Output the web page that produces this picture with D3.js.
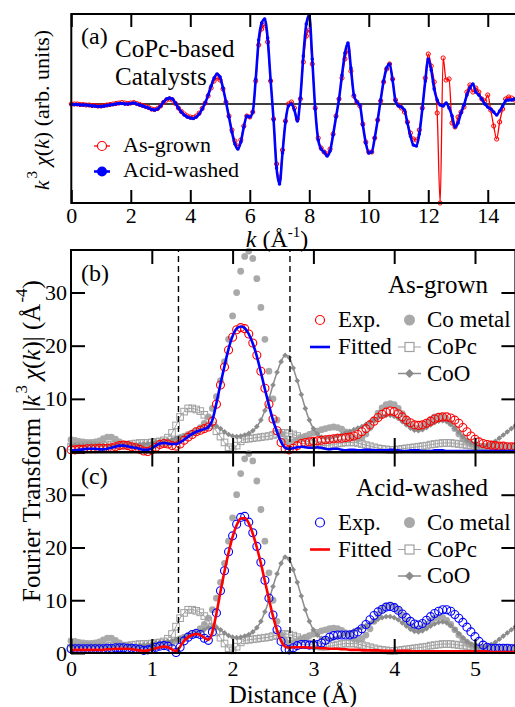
<!DOCTYPE html>
<html>
<head>
<meta charset="utf-8">
<script src="https://cdnjs.cloudflare.com/ajax/libs/d3/7.8.5/d3.min.js"></script>
<style>
  body { margin: 0; background: #fff; }
  svg { display: block; }
</style>
</head>
<body>
<div id="chart"></div>
<script>
// ---- panel (a): k^3 chi(k), sampled every 0.1 A^-1 from k = 0 ----
const kStep = 0.1;
const asGrownChi = [
  0.0, 0.0, 0.0, -0.05, -0.05, -0.1, -0.1, -0.15, -0.15, -0.2,
  -0.2, -0.15, -0.1, -0.05, 0.0, 0.05, 0.1, 0.15, 0.1, 0.05,
  0.1, 0.15, 0.05, -0.05, -0.15, -0.25, -0.35, -0.5, -0.55, -0.45,
  -0.2, 0.15, 0.4, 0.5, 0.4, 0.05, -0.4, -0.75, -1.0, -1.2,
  -1.3, -1.35, -1.2, -0.9, -0.45, 0.1, 0.8, 1.6, 2.3, 2.6,
  2.4, 1.5, 0.2, -1.2, -2.6, -3.7, -4.2, -3.6, -2.2, -1.2,
  -1.3, -0.8, 2.3, 5.9, 7.5, 7.9, 6.2, 2.3, -1.5, -6.0,
  -7.4, -4.6, -1.7, 0.0, 0.2, -0.4, -1.5, 0.5, 4.2, 6.8,
  7.4, 4.0, -0.4, -3.4, -4.4, -4.8, -5.0, -4.5, -3.0, -1.2,
  0.5, 2.6, 4.5, 5.3, 3.3, 0.8, 0.2, -0.2, -2.0, -3.8,
  -4.8, -4.8, -3.4, -1.6, 0.3, 2.2, 3.5, 4.0, 2.5, 0.4,
  -0.1, -0.4, -0.8, -1.8, -2.9, -3.5, -3.6, -2.6, -0.4, 2.6,
  5.0, 3.8, 2.2, -0.9, -9.9, 4.6, 2.4, 2.5, -1.9, -2.3,
  -1.3, -0.8, -0.3, 1.2, 1.9, 1.2, 1.6, 1.2, 0.5, 0.3,
  0.9, -0.6, -2.2, -3.5, -1.8, -0.5, 0.5, 0.7, 0.6, 0.4,
  0.5
];
const acidWashedChi = [
  -0.05, -0.05, -0.05, -0.1, -0.1, -0.1, -0.15, -0.2, -0.2, -0.25,
  -0.25, -0.2, -0.15, -0.1, -0.05, 0.0, 0.05, 0.05, 0.0, 0.0,
  0.05, 0.1, 0.0, -0.1, -0.2, -0.3, -0.4, -0.55, -0.6, -0.5,
  -0.2, 0.2, 0.5, 0.6, 0.5, 0.1, -0.4, -0.8, -1.1, -1.3,
  -1.4, -1.45, -1.3, -1.0, -0.5, 0.1, 0.9, 1.8, 2.6, 3.0,
  2.7, 1.6, 0.2, -1.3, -2.8, -4.0, -4.5, -3.8, -2.3, -1.2,
  -1.3, -0.8, 2.5, 6.4, 8.1, 8.5, 6.6, 2.4, -1.6, -6.4,
  -8.0, -4.9, -1.8, -0.2, 0.0, -0.6, -1.7, 0.6, 4.8, 8.0,
  8.9, 4.5, -0.5, -3.6, -4.5, -4.8, -5.2, -4.7, -3.1, -1.3,
  0.5, 2.9, 5.1, 6.1, 3.6, 0.9, 0.2, -0.1, -2.1, -3.9,
  -4.9, -4.8, -3.4, -1.6, 0.4, 2.3, 3.6, 4.0, 2.4, 0.3,
  -0.2, -0.3, -0.6, -1.9, -3.2, -4.1, -4.2, -3.0, -0.5, 2.3,
  4.5, 3.4, 1.5, 0.4, -0.1, -0.2, 0.1, -0.4, -1.2, -2.3,
  -1.9, -0.9, -0.1, 0.9, 1.6, 2.0, 1.2, 0.9, 0.5, 0.0,
  -0.3, -0.5, -0.8, -1.1, -0.7, -0.2, 0.3, 0.4, 0.4, 0.5,
  0.5
];
const kTicks = [0, 2, 4, 6, 8, 10, 12, 14];

// ---- panels (b), (c): |FT|, sampled every 0.05 A from R = 0 ----
const rStep = 0.05;
const expAsGrown = [
  0.4, 0.4, 0.5, 0.5, 0.6, 0.6, 0.6, 0.7, 0.7, 0.7,
  0.8, 1.0, 1.2, 1.3, 1.2, 1.0, 0.8, 0.5, 0.2, 0.1,
  0.4, 0.9, 1.4, 1.6, 1.5, 1.2, 1.1, 1.5, 2.2, 2.8,
  3.3, 3.8, 4.1, 4.4, 4.7, 5.8, 9.0, 12.6, 16.0, 19.2,
  21.6, 23.0, 23.4, 23.2, 22.2, 20.5, 18.2, 15.2, 12.0, 9.0,
  6.2, 4.0, 1.8, 0.6, 0.4, 0.7, 1.2, 1.6, 1.8, 1.9,
  2.0, 2.1, 2.2, 2.3, 2.4, 2.5, 2.6, 2.6, 2.7, 2.8,
  3.0, 3.3, 3.8, 4.4, 5.1, 5.8, 6.5, 7.1, 7.5, 7.7,
  7.6, 7.2, 6.6, 6.0, 5.5, 5.1, 5.0, 5.1, 5.4, 5.8,
  6.2, 6.5, 6.6, 6.6, 6.4, 6.0, 5.4, 4.6, 3.8, 3.0,
  2.4, 1.9, 1.6, 1.4, 1.3, 1.2, 1.1, 1.1, 1.0, 1.0,
  1.0
];
const fitAsGrown = [
  0.3, 0.3, 0.4, 0.5, 0.6, 0.6, 0.6, 0.5, 0.5, 0.6,
  0.8, 1.0, 1.2, 1.2, 1.1, 0.9, 0.8, 0.6, 0.4, 0.4,
  0.7, 1.2, 1.6, 1.7, 1.6, 1.5, 1.5, 1.8, 2.3, 2.9,
  3.4, 3.8, 4.1, 4.3, 4.7, 6.0, 9.2, 12.8, 16.2, 19.4,
  21.8, 23.2, 23.6, 23.3, 22.2, 20.4, 18.0, 15.0, 11.8, 8.8,
  6.0, 3.8, 1.9, 0.8, 0.6, 0.7, 0.9, 1.0, 0.9, 0.8,
  0.8, 0.9, 0.8, 0.6, 0.5, 0.6, 0.6, 0.4, 0.3, 0.4,
  0.4, 0.3, 0.3, 0.4, 0.4, 0.3, 0.3, 0.3, 0.3, 0.4,
  0.4, 0.3, 0.2, 0.2, 0.3, 0.3, 0.3, 0.2, 0.2, 0.2,
  0.3, 0.3, 0.3, 0.2, 0.2, 0.2, 0.2, 0.2, 0.2, 0.2,
  0.2, 0.2, 0.2, 0.2, 0.2, 0.2, 0.2, 0.2, 0.2, 0.2,
  0.2
];
const expAcidWashed = [
  0.8, 0.8, 0.8, 0.8, 0.8, 0.8, 0.8, 0.8, 0.8, 0.9,
  0.9, 1.0, 1.0, 1.0, 0.9, 0.9, 0.8, 0.7, 0.5, 0.6,
  0.8, 1.1, 1.3, 1.4, 1.3, 0.8, 0.1, 1.1, 2.3, 3.0,
  3.5, 3.7, 3.5, 2.8, 2.4, 4.0, 7.6, 11.8, 15.6, 19.2,
  22.2, 24.4, 25.7, 25.9, 24.8, 22.8, 20.2, 17.2, 13.8, 10.4,
  7.2, 4.4, 2.2, 0.8, 0.6, 1.0, 1.4, 1.6, 1.6, 1.5,
  1.5, 1.6, 1.9, 2.4, 3.0, 3.3, 3.4, 3.4, 3.4, 3.4,
  3.6, 4.0, 4.6, 5.4, 6.3, 7.1, 7.8, 8.3, 8.7, 8.8,
  8.6, 8.1, 7.4, 6.7, 6.0, 5.5, 5.3, 5.6, 6.2, 6.9,
  7.5, 7.9, 8.2, 8.2, 7.9, 7.3, 6.6, 5.8, 4.9, 4.0,
  3.1, 2.2, 1.5, 1.1, 0.9, 0.9, 0.9, 0.9, 0.9, 0.8,
  0.8
];
const fitAcidWashed = [
  0.6, 0.6, 0.6, 0.6, 0.6, 0.6, 0.6, 0.6, 0.6, 0.7,
  0.7, 0.8, 0.8, 0.8, 0.8, 0.7, 0.6, 0.5, 0.4, 0.5,
  0.7, 0.9, 1.1, 1.2, 1.1, 0.7, 0.3, 1.2, 2.3, 3.0,
  3.4, 3.6, 3.4, 2.9, 2.5, 4.0, 7.5, 11.6, 15.5, 19.0,
  22.0, 24.2, 25.5, 25.6, 24.6, 22.6, 20.0, 17.0, 13.6, 10.2,
  7.0, 4.3, 2.3, 1.2, 1.0, 1.1, 1.1, 1.1, 1.1, 1.0,
  1.0, 1.0, 0.9, 0.9, 0.8, 0.8, 0.8, 0.7, 0.7, 0.6,
  0.6, 0.6, 0.5, 0.5, 0.5, 0.5, 0.5, 0.4, 0.4, 0.4,
  0.4, 0.4, 0.4, 0.4, 0.4, 0.3, 0.3, 0.3, 0.3, 0.3,
  0.3, 0.3, 0.3, 0.3, 0.3, 0.3, 0.3, 0.3, 0.3, 0.3,
  0.3, 0.3, 0.3, 0.3, 0.2, 0.2, 0.2, 0.2, 0.2, 0.2,
  0.2
];
const coMetal = [
  2.3, 2.2, 2.0, 1.9, 1.8, 1.8, 1.9, 2.1, 2.5, 2.8,
  2.8, 2.4, 1.9, 1.5, 1.3, 1.2, 1.1, 1.0, 1.0, 1.1,
  1.2, 1.3, 1.5, 1.6, 1.7, 1.9, 2.3, 2.7, 3.0, 3.3,
  3.6, 4.0, 4.6, 5.4, 6.6, 8.2, 10.4, 13.4, 17.0, 21.2,
  25.6, 30.0, 34.0, 36.8, 37.8, 36.4, 32.6, 27.2, 21.2, 15.2,
  10.0, 6.0, 3.4, 2.2, 1.8, 1.9, 2.2, 2.6, 3.0, 3.3,
  3.6, 3.9, 4.2, 4.4, 4.6, 4.7, 4.6, 4.3, 3.8, 3.2,
  2.7, 2.5, 2.7, 3.4, 4.6, 6.0, 7.3, 8.3, 8.9, 9.1,
  8.9, 8.2, 7.2, 6.1, 5.2, 4.6, 4.5, 4.8, 5.4, 6.1,
  6.6, 6.8, 6.7, 6.2, 5.4, 4.4, 3.4, 2.6, 2.0, 1.5,
  1.2, 1.0, 0.9, 0.9, 1.0, 1.1, 1.1, 1.0, 0.9, 0.9,
  0.9
];
const coPc = [
  1.0, 1.1, 1.2, 1.3, 1.3, 1.2, 1.1, 1.1, 1.2, 1.3,
  1.4, 1.4, 1.3, 1.3, 1.4, 1.5, 1.6, 1.7, 1.7, 1.7,
  1.8, 1.9, 2.0, 2.2, 2.7, 3.6, 5.0, 6.6, 7.6, 8.2,
  8.2, 8.0, 7.7, 7.0, 6.1, 5.0, 3.9, 2.9, 1.8, 0.9,
  0.5, 1.2, 2.0, 2.4, 2.5, 2.6, 2.7, 2.8, 2.9, 3.0,
  3.2, 3.4, 3.6, 3.6, 3.5, 3.3, 3.0, 2.6, 2.2, 1.8,
  1.5, 1.3, 1.2, 1.2, 1.3, 1.4, 1.6, 1.7, 1.8, 1.8,
  1.8, 1.7, 1.5, 1.3, 1.1, 0.9, 0.7, 0.6, 0.5, 0.4,
  0.4, 0.5, 0.6, 0.7, 0.8, 0.9, 1.0, 1.1, 1.2, 1.4,
  1.5, 1.6, 1.7, 1.7, 1.7, 1.6, 1.5, 1.4, 1.3, 1.2,
  1.1, 1.0, 0.9, 0.9, 0.9, 1.0, 1.0, 1.0, 1.0, 1.0,
  1.0
];
const coO = [
  1.3, 1.3, 1.2, 1.2, 1.2, 1.3, 1.3, 1.3, 1.2, 1.2,
  1.2, 1.3, 1.4, 1.4, 1.4, 1.3, 1.3, 1.4, 1.5, 1.6,
  1.7, 1.9, 2.0, 2.1, 2.2, 2.3, 2.6, 2.8, 3.0, 3.2,
  3.4, 3.7, 4.0, 4.4, 4.8, 5.0, 4.9, 4.4, 3.8, 3.3,
  3.0, 2.9, 3.0, 3.2, 3.5, 4.0, 4.8, 6.0, 7.8, 10.0,
  12.6, 15.0, 17.0, 18.2, 17.8, 15.8, 13.4, 10.8, 8.2, 6.0,
  4.4, 3.4, 2.8, 2.6, 2.6, 2.8, 3.0, 3.3, 3.6, 3.9,
  4.2, 4.5, 4.8, 5.2, 5.6, 6.0, 6.4, 6.7, 6.9, 6.9,
  6.7, 6.3, 5.7, 5.1, 4.5, 4.1, 4.0, 4.2, 4.6, 5.1,
  5.5, 5.8, 5.9, 5.7, 5.2, 4.5, 3.7, 2.9, 2.2, 1.7,
  1.3, 1.1, 1.1, 1.3, 1.6, 2.0, 2.6, 3.2, 3.8, 4.4,
  5.0
];
const fitWindow = [1.33, 2.71];
const rTicks = [0, 1, 2, 3, 4, 5];
const ftTicks = [0, 10, 20, 30];

// ---- colours ----
const RED = '#ff0000', BLUE = '#0000ff';
const GREY_METAL = '#a9a9a9', GREY_PC = '#a0a0a0', GREY_O = '#8c8c8c';
const SERIF = "'Liberation Serif'";

const W = 515, H = 707;
const svg = d3.select('#chart').append('svg')
  .attr('width', W)
  .attr('height', H);

let kGrid = asGrownChi.map((d, i) => i * kStep);
let rGrid = coMetal.map((d, i) => i * rStep);

let xK = d3.scaleLinear().domain([0, 15]).range([71.3, 517.5]);
let yK = d3.scaleLinear().domain([-9.9, 9.0]).range([203, 14]);
let xR = d3.scaleLinear().domain([0, 5.5]).range([71, 515.4]);

drawPanelA();
drawPanelFT({
  y: d3.scaleLinear().domain([0, 38]).range([452, 250]),
  exp: expAsGrown, fit: fitAsGrown, expColor: RED, fitColor: BLUE,
  tag: '(b)', title: 'As-grown', showX: false
});
drawPanelFT({
  y: d3.scaleLinear().domain([0, 38]).range([653, 452.5]),
  exp: expAcidWashed, fit: fitAcidWashed, expColor: BLUE, fitColor: RED,
  tag: '(c)', title: 'Acid-washed', showX: true
});
drawAxisTitles();

// every text gets the serif face directly
svg.selectAll('text').style('font-family', SERIF);

function styleAxis(sel, fontSize) {
  sel.attr('font-family', null).attr('font-size', fontSize || 21);
  sel.select('.domain').remove();
  sel.selectAll('.tick line').attr('stroke', '#000').attr('stroke-width', 2);
  sel.selectAll('.tick text').attr('fill', '#000');
}

function frame(g, x0, x1, y0, y1) {
  g.append('rect')
    .attr('x', x0).attr('y', y1)
    .attr('width', x1 - x0).attr('height', y0 - y1)
    .attr('fill', 'none')
    .attr('stroke', '#000')
    .attr('stroke-width', 2);
}

function drawPanelA() {
  let g = svg.append('g').attr('class', 'panel-a');
  let [x0, x1] = xK.range();
  let [y0, y1] = yK.range();

  g.append('line')
    .attr('x1', x0).attr('x2', x1)
    .attr('y1', yK(0)).attr('y2', yK(0))
    .attr('stroke', '#000').attr('stroke-width', 1.5);

  let line = d3.line()
    .x((d, i) => xK(kGrid[i]))
    .y(d => yK(d))
    .curve(d3.curveMonotoneX);

  // as-grown: thin red line with open circles
  g.append('path').datum(asGrownChi)
    .attr('d', line)
    .attr('fill', 'none').attr('stroke', RED).attr('stroke-width', 1.3);
  g.selectAll('circle.ag').data(asGrownChi).join('circle')
    .attr('class', 'ag')
    .attr('cx', (d, i) => xK(kGrid[i]))
    .attr('cy', d => yK(d))
    .attr('r', 2.1)
    .attr('fill', 'none').attr('stroke', RED).attr('stroke-width', 1);

  // acid-washed: thick blue line with dots
  g.append('path').datum(acidWashedChi)
    .attr('d', line)
    .attr('fill', 'none').attr('stroke', BLUE).attr('stroke-width', 2.6);
  g.selectAll('circle.aw').data(acidWashedChi).join('circle')
    .attr('class', 'aw')
    .attr('cx', (d, i) => xK(kGrid[i]))
    .attr('cy', d => yK(d))
    .attr('r', 1.8)
    .attr('fill', BLUE);

  frame(g, x0, x1, y0, y1);

  g.append('g')
    .attr('transform', 'translate(0,' + y0 + ')')
    .call(d3.axisBottom(xK).tickValues(kTicks).tickFormat(d3.format('d'))
      .tickSize(-13).tickSizeOuter(0).tickPadding(4))
    .call(styleAxis, 22);
  g.append('g')
    .attr('transform', 'translate(0,' + y1 + ')')
    .call(d3.axisTop(xK).tickValues(kTicks).tickSize(-13).tickSizeOuter(0).tickFormat(''))
    .call(styleAxis);

  // texts
  g.append('text').attr('x', 81).attr('y', 44).attr('font-size', 24).text('(a)');
  g.append('text').attr('x', 115).attr('y', 57).attr('font-size', 25).text('CoPc-based');
  g.append('text').attr('x', 115).attr('y', 85).attr('font-size', 25).text('Catalysts');

  // legend
  let leg = g.append('g');
  leg.append('line').attr('x1', 94).attr('x2', 110).attr('y1', 146).attr('y2', 146)
    .attr('stroke', RED).attr('stroke-width', 1.3);
  leg.append('circle').attr('cx', 102).attr('cy', 146).attr('r', 4.5)
    .attr('fill', '#fff').attr('stroke', RED).attr('stroke-width', 1.2);
  leg.append('text').attr('x', 123).attr('y', 152).attr('font-size', 22).text('As-grown');
  leg.append('line').attr('x1', 94).attr('x2', 110).attr('y1', 171.5).attr('y2', 171.5)
    .attr('stroke', BLUE).attr('stroke-width', 2.6);
  leg.append('circle').attr('cx', 102).attr('cy', 171.5).attr('r', 5)
    .attr('fill', BLUE);
  leg.append('text').attr('x', 123).attr('y', 177).attr('font-size', 22).text('Acid-washed');
}

function drawPanelFT(opt) {
  let y = opt.y;
  let g = svg.append('g');
  let [x0, x1] = xR.range();
  let [y0, y1] = y.range();

  let line = d3.line()
    .x((d, i) => xR(rGrid[i]))
    .y(d => y(d))
    .curve(d3.curveMonotoneX);

  // references
  g.selectAll('circle.metal').data(coMetal).join('circle')
    .attr('class', 'metal')
    .attr('cx', (d, i) => xR(rGrid[i]))
    .attr('cy', d => y(d))
    .attr('r', 3.4)
    .attr('fill', GREY_METAL);

  g.append('path').datum(coPc)
    .attr('d', line)
    .attr('fill', 'none').attr('stroke', GREY_PC).attr('stroke-width', 1);
  g.selectAll('rect.pc').data(coPc).join('rect')
    .attr('class', 'pc')
    .attr('x', (d, i) => xR(rGrid[i]) - 3.3)
    .attr('y', d => y(d) - 3.3)
    .attr('width', 6.6).attr('height', 6.6)
    .attr('fill', 'none').attr('stroke', GREY_PC).attr('stroke-width', 1);

  g.append('path').datum(coO)
    .attr('d', line)
    .attr('fill', 'none').attr('stroke', GREY_O).attr('stroke-width', 1.5);
  g.selectAll('path.o').data(coO).join('path')
    .attr('class', 'o')
    .attr('d', d3.symbol().type(d3.symbolSquare).size(16))
    .attr('transform', (d, i) => 'translate(' + xR(rGrid[i]) + ',' + y(d) + ') rotate(45)')
    .attr('fill', GREY_O);

  // experiment and fit
  g.selectAll('circle.exp').data(opt.exp).join('circle')
    .attr('class', 'exp')
    .attr('cx', (d, i) => xR(rGrid[i]))
    .attr('cy', d => y(d))
    .attr('r', 4)
    .attr('fill', 'none').attr('stroke', opt.expColor).attr('stroke-width', 1.1);
  g.append('path').datum(opt.fit)
    .attr('d', line)
    .attr('fill', 'none').attr('stroke', opt.fitColor).attr('stroke-width', 2.6);

  // fitting window
  g.selectAll('line.win').data(fitWindow).join('line')
    .attr('class', 'win')
    .attr('x1', d => xR(d)).attr('x2', d => xR(d))
    .attr('y1', y0).attr('y2', y1)
    .attr('stroke', '#000').attr('stroke-width', 1.4)
    .attr('stroke-dasharray', '6,4');

  frame(g, x0, x1, y0, y1);

  g.append('g')
    .attr('transform', 'translate(' + x0 + ',0)')
    .call(d3.axisLeft(y).tickValues(ftTicks).tickFormat(d3.format('d'))
      .tickSize(-14).tickSizeOuter(0).tickPadding(4))
    .call(styleAxis, 22);
  g.append('g')
    .attr('transform', 'translate(' + x1 + ',0)')
    .call(d3.axisRight(y).tickValues(ftTicks.slice(1)).tickSize(-14).tickSizeOuter(0).tickFormat(''))
    .call(styleAxis);
  g.append('g')
    .attr('transform', 'translate(0,' + y1 + ')')
    .call(d3.axisTop(xR).tickValues(rTicks.slice(1)).tickSize(-14).tickSizeOuter(0).tickFormat(''))
    .call(styleAxis);
  let bottom = d3.axisBottom(xR).tickValues(opt.showX ? rTicks : rTicks.slice(1))
    .tickSize(-14).tickSizeOuter(0).tickPadding(7)
    .tickFormat(opt.showX ? d3.format('d') : '');
  g.append('g')
    .attr('transform', 'translate(0,' + y0 + ')')
    .call(bottom)
    .call(styleAxis, 22);

  // labels
  g.append('text').attr('x', 81).attr('y', y1 + 31).attr('font-size', 24).text(opt.tag);
  g.append('text').attr('x', 488).attr('y', y1 + 43)
    .attr('text-anchor', 'end').attr('font-size', 25).text(opt.title);

  // legend
  let leg = g.append('g').attr('font-size', 23);
  let r1 = y1 + 70, r2 = y1 + 97, r3 = y1 + 123.5;
  leg.append('circle').attr('cx', 320).attr('cy', r1).attr('r', 4.5)
    .attr('fill', 'none').attr('stroke', opt.expColor).attr('stroke-width', 1.2);
  leg.append('text').attr('x', 338).attr('y', r1 + 7).text('Exp.');
  leg.append('line').attr('x1', 310).attr('x2', 330).attr('y1', r2).attr('y2', r2)
    .attr('stroke', opt.fitColor).attr('stroke-width', 2.6);
  leg.append('text').attr('x', 338).attr('y', r2 + 7).text('Fitted');

  leg.append('circle').attr('cx', 409.5).attr('cy', r1).attr('r', 5.5).attr('fill', GREY_METAL);
  leg.append('text').attr('x', 427).attr('y', r1 + 7).text('Co metal');
  leg.append('line').attr('x1', 398).attr('x2', 421).attr('y1', r2).attr('y2', r2)
    .attr('stroke', GREY_PC).attr('stroke-width', 1);
  leg.append('rect').attr('x', 405).attr('y', r2 - 4.5).attr('width', 9).attr('height', 9)
    .attr('fill', '#fff').attr('stroke', GREY_PC).attr('stroke-width', 1.2);
  leg.append('text').attr('x', 427).attr('y', r2 + 7).text('CoPc');
  leg.append('line').attr('x1', 398).attr('x2', 421).attr('y1', r3).attr('y2', r3)
    .attr('stroke', GREY_O).attr('stroke-width', 1.5);
  leg.append('path')
    .attr('d', d3.symbol().type(d3.symbolSquare).size(40))
    .attr('transform', 'translate(409.5,' + r3 + ') rotate(45)')
    .attr('fill', GREY_O);
  leg.append('text').attr('x', 427).attr('y', r3 + 7).text('CoO');
}

function drawAxisTitles() {
  // x title of (a)
  let ka = svg.append('text').attr('x', 277).attr('y', 247)
    .attr('text-anchor', 'middle').attr('font-size', 24);
  ka.append('tspan').attr('font-style', 'italic').text('k');
  ka.append('tspan').text(' (Å');
  ka.append('tspan').attr('font-size', 15).attr('dy', -10).text('-1');
  ka.append('tspan').attr('dy', 10).text(')');

  // y title of (a)
  let ya = svg.append('text')
    .attr('transform', 'translate(49,110) rotate(-90)')
    .attr('text-anchor', 'middle').attr('font-size', 22);
  ya.append('tspan').attr('font-style', 'italic').text('k');
  ya.append('tspan').attr('font-size', 15).attr('dy', -12).attr('dx', 2).text('3');
  ya.append('tspan').attr('dy', 12).attr('dx', 5).attr('font-style', 'italic').text('χ');
  ya.append('tspan').text('(');
  ya.append('tspan').attr('font-style', 'italic').text('k');
  ya.append('tspan').text(') (arb. units)');

  // y title of (b), (c)
  let yf = svg.append('text')
    .attr('transform', 'translate(40,441) rotate(-90)')
    .attr('text-anchor', 'middle').attr('font-size', 25);
  yf.append('tspan').text('Fourier Transform |');
  yf.append('tspan').attr('font-style', 'italic').text('k');
  yf.append('tspan').attr('font-size', 17).attr('dy', -13).attr('dx', 2).text('3');
  yf.append('tspan').attr('dy', 13).attr('dx', 5).attr('font-style', 'italic').text('χ');
  yf.append('tspan').text('(');
  yf.append('tspan').attr('font-style', 'italic').text('k');
  yf.append('tspan').text(')| (Å');
  yf.append('tspan').attr('font-size', 17).attr('dy', -13).attr('dx', 1).text('-4');
  yf.append('tspan').attr('dy', 13).text(')');

  // x title of (c)
  svg.append('text').attr('x', 293).attr('y', 703)
    .attr('text-anchor', 'middle').attr('font-size', 25)
    .text('Distance (Å)');
}
</script>
</body>
</html>
